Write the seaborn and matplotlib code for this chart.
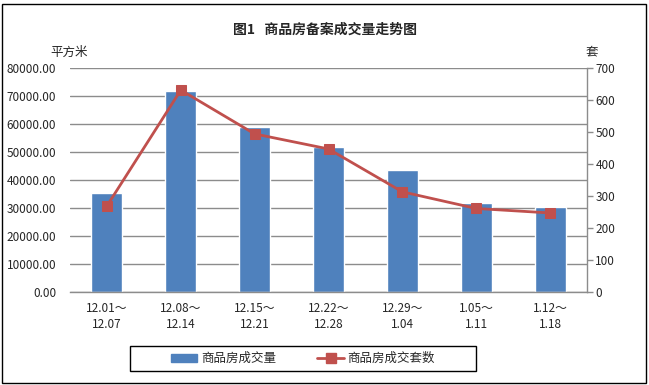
import matplotlib
matplotlib.use("Agg")
import matplotlib.pyplot as plt
import seaborn as sns
import pandas as pd
import numpy as np
from matplotlib.patches import Rectangle, Patch
from matplotlib.lines import Line2D

categories = ["12.01～\n12.07", "12.08～\n12.14", "12.15～\n12.21", "12.22～\n12.28",
              "12.29～\n1.04", "1.05～\n1.11", "1.12～\n1.18"]
area_values = [35400, 71800, 58800, 51700, 43600, 31800, 30400]
unit_values = [269, 631, 494, 447, 313, 261, 247]
left_ticks = [0, 10000, 20000, 30000, 40000, 50000, 60000, 70000, 80000]
right_ticks = [0, 100, 200, 300, 400, 500, 600, 700]
title = "图1   商品房备案成交量走势图"
bar_label = "商品房成交量"
line_label = "商品房成交套数"

sns.set_theme(style="white")
plt.rcParams['font.family'] = ['Noto Sans CJK SC', 'DejaVu Sans']

bar_color = "#4F81BD"
line_color = "#C0504D"
grid_color = "#8C8C8C"

df = pd.DataFrame({"cat": categories, "area": area_values, "units": unit_values})

fig = plt.figure(figsize=(6.49, 3.85), dpi=100)
ax = fig.add_axes([70/649, 1-292/385, (587-70)/649, (292-68)/385])

sns.barplot(data=df, x="cat", y="area", color=bar_color, width=0.42,
            saturation=1, ax=ax)
for p in ax.patches:
    p.set_zorder(2)
ax.set_ylim(0, 80000)
ax.set_yticks(left_ticks)
ax.set_yticklabels([f"{v:.2f}" for v in left_ticks], fontsize=8.5)
ax.set_xlim(-0.5, len(categories) - 0.5)
ax.set_xlabel("")
ax.set_ylabel("")
ax.yaxis.grid(True, color=grid_color, lw=1)
ax.set_axisbelow(True)
for s in ["left", "top", "right"]:
    ax.spines[s].set_visible(False)
ax.spines["bottom"].set_color(grid_color)
ax.spines["bottom"].set_linewidth(1)
ax.tick_params(axis="y", length=0, pad=10, labelsize=8.5)
ax.tick_params(axis="x", length=0, pad=7, labelsize=8.5)
for lab in ax.get_xticklabels():
    lab.set_linespacing(1.3)

ax2 = ax.twinx()
sns.lineplot(x=np.arange(len(categories)), y=unit_values, ax=ax2, color=line_color,
             lw=2, marker="s", markersize=7.5, markeredgecolor=line_color,
             markerfacecolor=line_color, zorder=3)
ax2.set_ylim(0, 700)
ax2.set_yticks(right_ticks)
ax2.set_yticklabels([str(v) for v in right_ticks], fontsize=8.5)
ax2.set_xlim(-0.5, len(categories) - 0.5)
for s in ["left", "top", "bottom"]:
    ax2.spines[s].set_visible(False)
ax2.spines["right"].set_color(grid_color)
ax2.spines["right"].set_linewidth(1)
ax2.tick_params(axis="y", length=4, width=1, color=grid_color, pad=2, labelsize=8.5, direction="out")
ax2.set_ylabel("")

fig.text(325/649, 1-30/385, title, ha="center", va="center", fontsize=10, fontweight="bold")
fig.text(69/649, 1-52/385, "平方米", ha="center", va="center", fontsize=9)
fig.text(592/649, 1-52/385, "套", ha="center", va="center", fontsize=9)

handles = [Patch(facecolor=bar_color, edgecolor=bar_color),
           Line2D([0], [0], color=line_color, lw=2, marker="s", markersize=7.5)]
leg = fig.legend(handles, [bar_label, line_label], loc="center",
                 bbox_to_anchor=(303/649, 1-358.5/385), ncol=2, fontsize=9,
                 frameon=False, handlelength=2.1, handleheight=0.6,
                 handletextpad=0.3, columnspacing=3.3)

fig.patches.append(Rectangle((130/649, 1-371/385), 346/649, 25/385, transform=fig.transFigure,
                             fill=False, edgecolor="black", lw=1))
fig.patches.append(Rectangle((2/649, 2/385), 644/649, 379/385, transform=fig.transFigure,
                             fill=False, edgecolor="black", lw=1))

fig.savefig("out.png", dpi=100)
